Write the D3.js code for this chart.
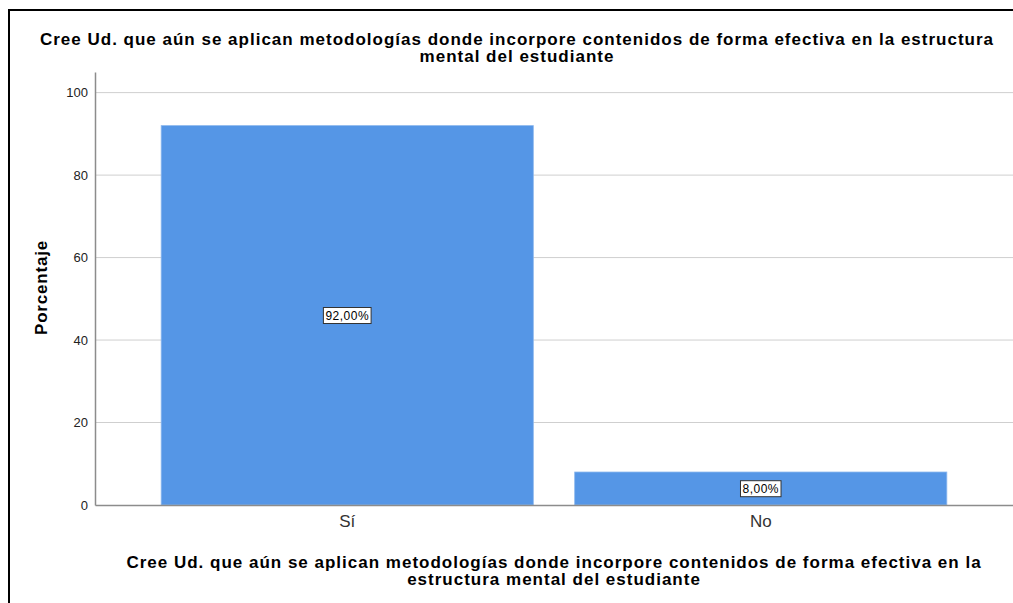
<!DOCTYPE html>
<html>
<head>
<meta charset="utf-8">
<script src="https://cdn.jsdelivr.net/npm/d3@7"></script>
<style>
  body { margin: 0; background: #fff; }
  svg { font-family: "Liberation Sans", Arial, sans-serif; }
</style>
</head>
<body>
<div id="chart"></div>
<script>
// data
var categories = ["Sí", "No"];
var percentages = [92, 8];
var valueLabels = ["92,00%", "8,00%"];
var yTicks = [0, 20, 40, 60, 80, 100];
var titleLines = ["Cree Ud. que aún se aplican metodologías donde incorpore contenidos de forma efectiva en la estructura",
                  "mental del estudiante"];
var xTitleLines = ["Cree Ud. que aún se aplican metodologías donde incorpore contenidos de forma efectiva en la",
                   "estructura mental del estudiante"];

var W = 1013, H = 603;
var margin = {top: 72, right: 0, bottom: 98, left: 95},
    width = W - margin.left - margin.right,
    height = H - margin.top - margin.bottom;

var svg = d3.select("#chart").append("svg")
    .attr("width", W)
    .attr("height", H);

// outer frame (only top and left edges fall inside the picture)
svg.append("rect")
    .attr("x", 9).attr("y", 10)
    .attr("width", 1100).attr("height", 700)
    .attr("fill", "none")
    .attr("stroke", "#000")
    .attr("stroke-width", 2);

var g = svg.append("g")
    .attr("transform", "translate(" + margin.left + "," + margin.top + ")");

var x = d3.scaleBand()
    .domain(categories)
    .range([0, width])
    .paddingInner(0.1)
    .paddingOuter(0.16);

var y = d3.scaleLinear()
    .domain([0, 105])
    .range([height, 0]);

// gridlines
g.selectAll(".grid")
    .data(yTicks.filter(function(d) { return d > 0; }))
    .enter().append("line")
    .attr("x1", 0).attr("x2", width)
    .attr("y1", function(d) { return y(d); })
    .attr("y2", function(d) { return y(d); })
    .attr("stroke", "#cfcfcf")
    .attr("stroke-width", 1);

// bars
g.selectAll(".bar")
    .data(percentages)
    .enter().append("rect")
    .attr("x", function(d, i) { return x(categories[i]); })
    .attr("y", function(d) { return y(d); })
    .attr("width", x.bandwidth())
    .attr("height", function(d) { return height - y(d); })
    .attr("fill", "#5596e6")
    .attr("stroke", "#8db8ee")
    .attr("stroke-width", 0.8);

// y axis
var yAxis = g.append("g")
    .call(d3.axisLeft(y).tickValues(yTicks).tickSize(0).tickPadding(7));
yAxis.select(".domain").attr("stroke", "#8c8c8c").attr("stroke-width", 1.5);
yAxis.selectAll("text").attr("font-size", 13).attr("fill", "#222")
    .attr("font-family", "Liberation Sans, Arial, sans-serif");

// x axis
var xAxis = g.append("g")
    .attr("transform", "translate(0," + height + ")")
    .call(d3.axisBottom(x).tickSize(0).tickPadding(10));
xAxis.select(".domain").attr("stroke", "#8c8c8c").attr("stroke-width", 1.5);
xAxis.selectAll("text").attr("font-size", 17).attr("fill", "#333")
    .attr("font-family", "Liberation Sans, Arial, sans-serif");

// value labels
percentages.forEach(function(d, i) {
  var cx = x(categories[i]) + x.bandwidth() / 2,
      cy = y(d / 2);
  var lab = g.append("g").attr("transform", "translate(" + cx + "," + cy + ")");
  var t = lab.append("text")
      .attr("text-anchor", "middle")
      .attr("dy", "0.35em")
      .attr("font-size", 12)
      .attr("letter-spacing", 0.5)
      .attr("fill", "#000")
      .text(valueLabels[i]);
  var bb = t.node().getBBox();
  lab.insert("rect", "text")
      .attr("x", bb.x - 2).attr("y", bb.y - 1)
      .attr("width", bb.width + 4).attr("height", bb.height + 2)
      .attr("fill", "#fff")
      .attr("stroke", "#333")
      .attr("stroke-width", 1);
});

// titles
svg.append("text")
    .attr("x", 517).attr("y", 45)
    .attr("text-anchor", "middle")
    .attr("font-size", 17).attr("font-weight", "bold")
    .attr("letter-spacing", 1)
    .selectAll("tspan").data(titleLines).enter().append("tspan")
    .attr("x", 517)
    .attr("dy", function(d, i) { return i ? 17 : 0; })
    .text(function(d) { return d; });

svg.append("text")
    .attr("x", 554).attr("y", 568)
    .attr("text-anchor", "middle")
    .attr("font-size", 17).attr("font-weight", "bold")
    .attr("letter-spacing", 1)
    .selectAll("tspan").data(xTitleLines).enter().append("tspan")
    .attr("x", 554)
    .attr("dy", function(d, i) { return i ? 17 : 0; })
    .text(function(d) { return d; });

svg.append("text")
    .attr("transform", "translate(47," + (margin.top + height / 2 - 1) + ") rotate(-90)")
    .attr("text-anchor", "middle")
    .attr("font-size", 17).attr("font-weight", "bold")
    .attr("letter-spacing", 0.8)
    .text("Porcentaje");
</script>
</body>
</html>
